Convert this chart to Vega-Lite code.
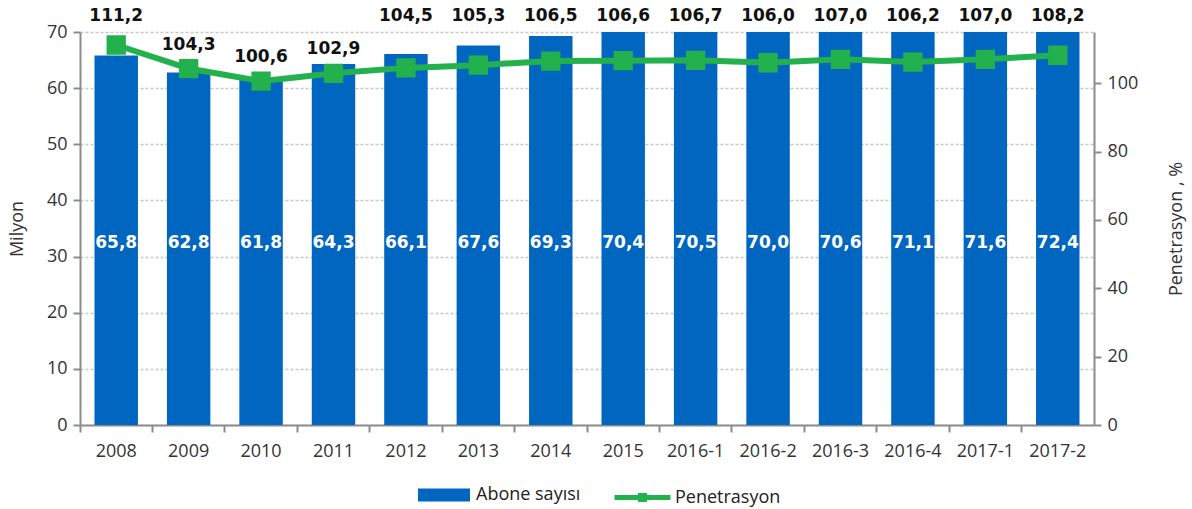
{
  "$schema": "https://vega.github.io/schema/vega-lite/v6.json",
  "autosize": {"type": "none"},
  "width": 1014,
  "height": 393,
  "padding": {"left": 80, "top": 32, "right": 98, "bottom": 84},
  "config": {
    "locale": {"number": {"decimal": ",", "thousands": ".", "grouping": [3], "currency": ["", ""]}},
    "view": {"stroke": null},
    "font": "Open Sans",
    "axis": {"labelFont": "Open Sans", "labelFontSize": 18, "labelColor": "#333333", "titleFont": "Open Sans", "titleFontSize": 18, "titleFontWeight": "normal", "titleColor": "#333333", "domainColor": "#8c8c8c", "tickColor": "#8c8c8c", "domainWidth": 2, "tickWidth": 2, "tickSize": 7}
  },
  "data": {"values": [
    {"donem": "2008", "abone": 65.8, "pen": 111.2},
    {"donem": "2009", "abone": 62.8, "pen": 104.3},
    {"donem": "2010", "abone": 61.8, "pen": 100.6},
    {"donem": "2011", "abone": 64.3, "pen": 102.9},
    {"donem": "2012", "abone": 66.1, "pen": 104.5},
    {"donem": "2013", "abone": 67.6, "pen": 105.3},
    {"donem": "2014", "abone": 69.3, "pen": 106.5},
    {"donem": "2015", "abone": 70.4, "pen": 106.6},
    {"donem": "2016-1", "abone": 70.5, "pen": 106.7},
    {"donem": "2016-2", "abone": 70.0, "pen": 106.0},
    {"donem": "2016-3", "abone": 70.6, "pen": 107.0},
    {"donem": "2016-4", "abone": 71.1, "pen": 106.2},
    {"donem": "2017-1", "abone": 71.6, "pen": 107.0},
    {"donem": "2017-2", "abone": 72.4, "pen": 108.2}
  ]},
  "encoding": {
    "x": {"field": "donem", "type": "nominal", "sort": null,
      "scale": {"paddingInner": 0, "paddingOuter": 0},
      "axis": {"title": null, "labelAngle": 0, "bandPosition": 0, "labelPadding": 10, "grid": false}}
  },
  "layer": [
    {
      "layer": [
        {
          "mark": {"type": "bar", "clip": true, "width": {"band": 0.6}},
          "encoding": {
            "y": {"field": "abone", "type": "quantitative", "scale": {"domain": [0, 70], "nice": false},
              "axis": {"title": "Milyon", "titleX": -54, "values": [0, 10, 20, 30, 40, 50, 60, 70], "grid": true, "gridColor": "#c8c8c8", "gridDash": [3, 2], "gridWidth": 1.5, "labelPadding": 6}},
            "fill": {"datum": "Abone sayısı", "type": "nominal",
              "scale": {"domain": ["Abone sayısı"], "range": ["#0066C0"]},
              "legend": {"title": null, "orient": "none", "legendX": 338, "legendY": 437, "padding": 0,
                "symbolType": "M-1,-0.25H1V0.25H-1Z", "symbolSize": 2704, "symbolStrokeWidth": 0, "labelFont": "Open Sans", "labelFontSize": 18, "labelColor": "#222222", "labelOffset": 6}}
          }
        },
        {
          "mark": {"type": "text", "color": "white", "font": "DejaVu Sans", "fontWeight": "bold", "fontSize": 17, "baseline": "middle"},
          "encoding": {
            "y": {"datum": 32.5, "type": "quantitative"},
            "text": {"field": "abone", "type": "quantitative", "format": ".1f"}
          }
        }
      ]
    },
    {
      "layer": [
        {
          "mark": {"type": "line", "strokeWidth": 6, "point": {"shape": "square", "size": 300, "filled": true, "color": "#22B14C", "opacity": 1}},
          "encoding": {
            "y": {"field": "pen", "type": "quantitative", "scale": {"domain": [0, 115], "nice": false},
              "axis": {"orient": "right", "title": "Penetrasyon , %", "titleAngle": 270, "titleX": 82, "titleBaseline": "middle", "values": [0, 20, 40, 60, 80, 100], "grid": false, "labelPadding": 6}},
            "stroke": {"datum": "Penetrasyon", "type": "nominal",
              "scale": {"domain": ["Penetrasyon"], "range": ["#22B14C"]},
              "legend": {"title": null, "orient": "none", "legendX": 532, "legendY": 435, "padding": 0,
                "symbolType": "M-1,0H1M-0.07,-0.07H0.07V0.07H-0.07Z", "symbolSize": 3136, "symbolStrokeWidth": 5, "symbolFillColor": "#22B14C", "labelFont": "Open Sans", "labelFontSize": 18, "labelColor": "#222222", "labelOffset": 2}}
          }
        },
        {
          "transform": [{"filter": "datum.pen < 104.4"}],
          "mark": {"type": "text", "color": "#111111", "font": "DejaVu Sans", "fontWeight": "bold", "fontSize": 17, "baseline": "middle", "dy": -24},
          "encoding": {
            "y": {"field": "pen", "type": "quantitative"},
            "text": {"field": "pen", "type": "quantitative", "format": ".1f"}
          }
        },
        {
          "transform": [{"filter": "datum.pen >= 104.4"}],
          "mark": {"type": "text", "color": "#111111", "font": "DejaVu Sans", "fontWeight": "bold", "fontSize": 17, "baseline": "middle", "dy": -16},
          "encoding": {
            "y": {"datum": 115, "type": "quantitative"},
            "text": {"field": "pen", "type": "quantitative", "format": ".1f"}
          }
        }
      ]
    }
  ],
  "resolve": {"scale": {"y": "independent"}}
}
